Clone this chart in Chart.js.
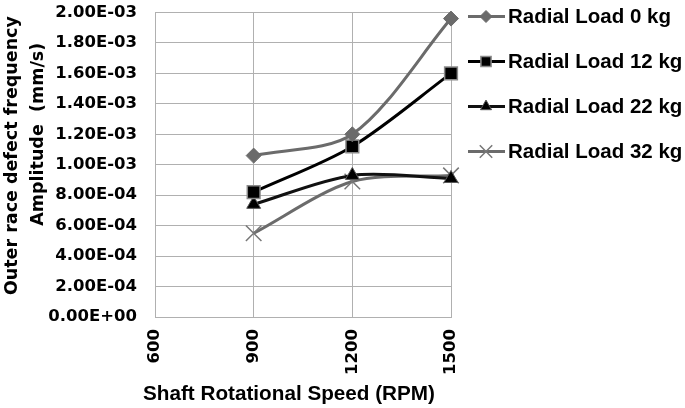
<!DOCTYPE html>
<html>
<head>
<meta charset="utf-8">
<script src="https://cdn.jsdelivr.net/npm/chart.js@4.4.0/dist/chart.umd.min.js"></script>
<style>
  html, body { margin: 0; padding: 0; background: #fff; }
  #wrap { width: 685px; height: 408px; }
</style>
</head>
<body>
<div id="wrap"><canvas id="chart"></canvas></div>
<script>
// values
const speeds = [900, 1200, 1500];
const load0 = [1.06e-3, 1.20e-3, 1.96e-3];
const load12 = [8.2e-4, 1.12e-3, 1.60e-3];
const load22 = [7.4e-4, 9.3e-4, 9.1e-4];
const load32 = [5.5e-4, 8.9e-4, 9.3e-4];
const seriesLabels = ["Radial Load 0 kg", "Radial Load 12 kg", "Radial Load 22 kg", "Radial Load 32 kg"];
const xTicks = [600, 900, 1200, 1500];
const yTickLabels = ["0.00E+00", "2.00E-04", "4.00E-04", "6.00E-04", "8.00E-04",
  "1.00E-03", "1.20E-03", "1.40E-03", "1.60E-03", "1.80E-03", "2.00E-03"];
const xTitle = "Shaft Rotational Speed (RPM)";

const toPoints = (vals) => vals.map((v, i) => ({ x: speeds[i], y: v }));

const gridColor = "#b0b0b0";
const tickFont = { family: "DejaVu Sans", size: 16.5, weight: "bold" };

// legend with line + marker to the right of the plot, plus the x axis title
// (the built-in title gets squeezed to the plot width)
const sideLegend = {
  id: "sideLegend",
  afterDraw(chart) {
    const ctx = chart.ctx;
    const area = chart.chartArea;
    const left = area.right + 17;
    const top = area.top + 4;
    chart.data.datasets.forEach((ds, i) => {
      const y = top + i * 45;
      ctx.save();
      ctx.strokeStyle = ds.borderColor;
      ctx.lineWidth = 3;
      ctx.beginPath();
      ctx.moveTo(left, y);
      ctx.lineTo(left + 37, y);
      ctx.stroke();
      ctx.fillStyle = ds.pointBackgroundColor;
      ctx.strokeStyle = ds.pointBorderColor;
      ctx.lineWidth = ds.pointBorderWidth;
      Chart.helpers.drawPoint(ctx, {
        pointStyle: ds.pointStyle,
        radius: ds.pointRadius * 0.8,
        borderWidth: ds.pointBorderWidth,
        rotation: 0
      }, left + 18, y);
      ctx.fillStyle = "#000";
      ctx.font = "bold 20.5px 'Liberation Sans'";
      ctx.textBaseline = "middle";
      ctx.textAlign = "left";
      ctx.fillText(ds.label, left + 40, y + 1);
      ctx.restore();
    });

    ctx.save();
    ctx.fillStyle = "#000";
    ctx.font = "bold 20.7px 'Liberation Sans'";
    ctx.textAlign = "center";
    ctx.textBaseline = "middle";
    ctx.fillText(xTitle, (area.left + area.right) / 2 - 14, chart.height - 14);
    ctx.restore();
  }
};

const data = {
  datasets: [
    {
      label: seriesLabels[0],
      data: toPoints(load0),
      borderColor: "#6b6b6b",
      borderWidth: 3,
      pointStyle: "rectRot",
      pointRadius: 7.5,
      pointBackgroundColor: "#6b6b6b",
      pointBorderColor: "#6b6b6b",
      pointBorderWidth: 1,
      tension: 0.3,
      clip: false
    },
    {
      label: seriesLabels[1],
      data: toPoints(load12),
      borderColor: "#000",
      borderWidth: 3,
      pointStyle: "rect",
      pointRadius: 9,
      pointBackgroundColor: "#000",
      pointBorderColor: "#8a8a8a",
      pointBorderWidth: 1.5,
      tension: 0.3,
      clip: false
    },
    {
      label: seriesLabels[2],
      data: toPoints(load22),
      borderColor: "#111",
      borderWidth: 3,
      pointStyle: "triangle",
      pointRadius: 8,
      pointBackgroundColor: "#000",
      pointBorderColor: "#555",
      pointBorderWidth: 1,
      tension: 0.3,
      clip: false
    },
    {
      label: seriesLabels[3],
      data: toPoints(load32),
      borderColor: "#6b6b6b",
      borderWidth: 3,
      pointStyle: "crossRot",
      pointRadius: 11,
      pointBackgroundColor: "#777",
      pointBorderColor: "#777",
      pointBorderWidth: 1.5,
      tension: 0.3,
      clip: false
    }
  ]
};

const config = {
  type: "line",
  data: data,
  plugins: [sideLegend],
  options: {
    responsive: true,
    maintainAspectRatio: false,
    animation: false,
    layout: { padding: { top: 11, right: 234, left: 0, bottom: 0 } },
    plugins: {
      legend: { display: false },
      tooltip: { enabled: false }
    },
    scales: {
      x: {
        type: "linear",
        min: 600,
        max: 1500,
        afterBuildTicks: (scale) => { scale.ticks = xTicks.map((v) => ({ value: v })); },
        afterFit: (scale) => {
          scale.height = 91;
          scale.paddingLeft = 0;
          scale.paddingRight = 0;
        },
        grid: { color: gridColor, drawTicks: false },
        border: { color: gridColor },
        ticks: {
          color: "#000",
          font: tickFont,
          maxRotation: 90,
          minRotation: 90,
          padding: 12,
          callback: (v) => String(v)
        }
      },
      y: {
        min: 0,
        max: 0.002,
        afterFit: (scale) => {
          scale.width = 155;
          scale.paddingTop = 0;
          scale.paddingBottom = 0;
        },
        grid: { color: gridColor, drawTicks: false },
        border: { color: gridColor },
        ticks: {
          stepSize: 0.0002,
          color: "#000",
          font: tickFont,
          padding: 18,
          callback: (v, i) => yTickLabels[i]
        },
        title: {
          display: true,
          text: ["   Outer race defect frequency", "          Amplitude  (mm/s)"],
          color: "#000",
          font: { family: "DejaVu Sans", size: 17.5, weight: "bold", lineHeight: 1.45 },
          padding: { top: 0, bottom: 0 }
        }
      }
    }
  }
};

new Chart(document.getElementById("chart"), config);
</script>
</body>
</html>
